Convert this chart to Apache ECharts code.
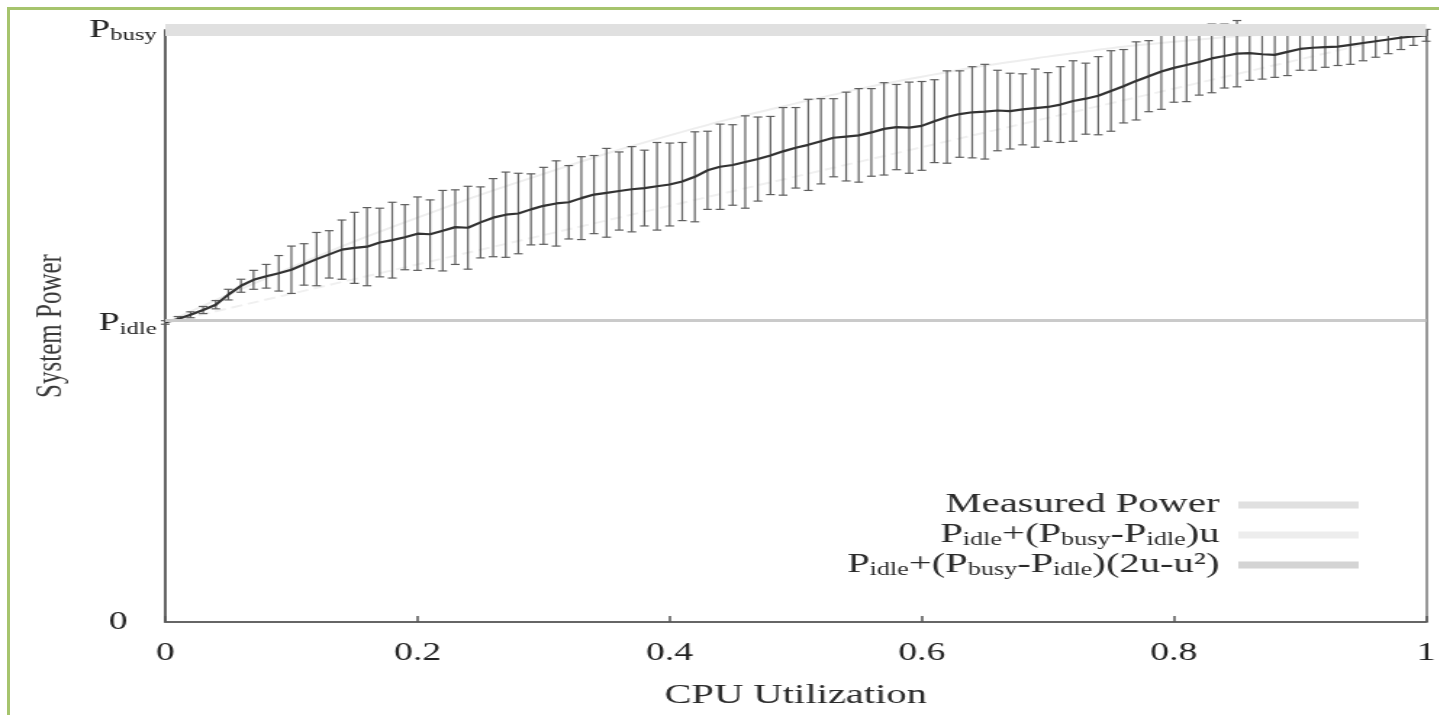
<!DOCTYPE html>
<html>
<head>
<meta charset="utf-8">
<script src="https://cdn.jsdelivr.net/npm/echarts@6/dist/echarts.min.js"></script>
<style>
  html, body { margin: 0; padding: 0; background: #fff; overflow: hidden; width: 1439px; height: 715px; }
  #main { position: absolute; left: 0; top: 0; width: 993px; height: 715px; transform: scaleX(1.45); transform-origin: 0 0; }
  #frame { position: absolute; left: 7px; top: 7px; width: 1500px; height: 800px; border-left: 3px solid #a6c46d; border-top: 3px solid #a6c46d; pointer-events: none; }
</style>
</head>
<body>
<div id="main"></div>
<div id="frame"></div>
<script>
// ---- data ----
const xTickLabels = ['0', '0.2', '0.4', '0.6', '0.8', '1'];
const yTickValues = [0, 0.505, 1];
const yTickLabels = ['0', 'P_idle', 'P_busy'];
const P_IDLE = 0.505;
const P_BUSY = 1.0;

const utilization = [
  0.00,0.01,0.02,0.03,0.04,0.05,0.06,0.07,0.08,0.09,
  0.10,0.11,0.12,0.13,0.14,0.15,0.16,0.17,0.18,0.19,
  0.20,0.21,0.22,0.23,0.24,0.25,0.26,0.27,0.28,0.29,
  0.30,0.31,0.32,0.33,0.34,0.35,0.36,0.37,0.38,0.39,
  0.40,0.41,0.42,0.43,0.44,0.45,0.46,0.47,0.48,0.49,
  0.50,0.51,0.52,0.53,0.54,0.55,0.56,0.57,0.58,0.59,
  0.60,0.61,0.62,0.63,0.64,0.65,0.66,0.67,0.68,0.69,
  0.70,0.71,0.72,0.73,0.74,0.75,0.76,0.77,0.78,0.79,
  0.80,0.81,0.82,0.83,0.84,0.85,0.86,0.87,0.88,0.89,
  0.90,0.91,0.92,0.93,0.94,0.95,0.96,0.97,0.98,0.99,
  1.00
];
const measuredPower = [
  0.506,0.512,0.519,0.527,0.536,0.553,0.568,0.578,0.584,0.589,
  0.595,0.604,0.613,0.621,0.629,0.632,0.634,0.641,0.645,0.650,
  0.656,0.655,0.661,0.667,0.666,0.675,0.683,0.688,0.690,0.697,
  0.703,0.707,0.709,0.716,0.722,0.725,0.728,0.731,0.733,0.736,
  0.739,0.744,0.752,0.763,0.769,0.772,0.777,0.782,0.788,0.795,
  0.801,0.806,0.812,0.818,0.820,0.822,0.827,0.833,0.836,0.835,
  0.838,0.846,0.853,0.858,0.861,0.862,0.864,0.863,0.866,0.868,
  0.870,0.874,0.880,0.884,0.889,0.897,0.905,0.914,0.922,0.930,
  0.936,0.941,0.946,0.952,0.956,0.960,0.961,0.959,0.958,0.963,
  0.968,0.970,0.971,0.972,0.975,0.978,0.981,0.984,0.987,0.989,
  0.991
];
const powerError = [
  0.003,0.004,0.005,0.006,0.007,0.009,0.011,0.016,0.020,0.030,
  0.040,0.035,0.045,0.040,0.050,0.060,0.066,0.058,0.064,0.055,
  0.062,0.058,0.068,0.063,0.070,0.060,0.066,0.072,0.068,0.060,
  0.065,0.072,0.062,0.070,0.066,0.075,0.066,0.072,0.064,0.074,
  0.070,0.066,0.076,0.066,0.072,0.068,0.078,0.071,0.066,0.074,
  0.068,0.077,0.072,0.066,0.075,0.079,0.074,0.078,0.072,0.077,
  0.075,0.070,0.078,0.073,0.077,0.080,0.068,0.064,0.060,0.066,
  0.058,0.064,0.068,0.060,0.066,0.068,0.062,0.066,0.060,0.064,
  0.058,0.062,0.056,0.058,0.054,0.056,0.046,0.042,0.038,0.040,
  0.036,0.038,0.034,0.032,0.033,0.030,0.027,0.024,0.020,0.015,
  0.010
];
const linearModelU = [0, 1];
const linearModelP = [0.505, 1.0];
const quadModelU = [0, 0.1, 0.2, 0.3, 0.4, 0.5, 0.6, 0.7, 0.8, 0.9, 1.0];
const quadModelP = [0.505, 0.599, 0.683, 0.757, 0.822, 0.876, 0.921, 0.955, 0.980, 0.995, 1.0];

const legendNames = ['Measured Power', 'Pidle+(Pbusy-Pidle)u', 'Pidle+(Pbusy-Pidle)(2u-u²)'];
const legendRich = {
  'Measured Power': 'Measured Power',
  'Pidle+(Pbusy-Pidle)u': 'P{sub|idle}+(P{sub|busy}-P{sub|idle})u',
  'Pidle+(Pbusy-Pidle)(2u-u²)': 'P{sub|idle}+(P{sub|busy}-P{sub|idle})(2u-u²)'
};

// ---- chart ----
const chart = echarts.init(document.getElementById('main'));
const serif = '"Liberation Serif", "Times New Roman", serif';

const errData = utilization.map((u, i) => [u, measuredPower[i] - powerError[i], measuredPower[i] + powerError[i]]);
const lineData = utilization.map((u, i) => [u, measuredPower[i]]);

const option = {
  animation: false,
  grid: { left: 114, right: 9, top: 30, bottom: 88, show: false },
  xAxis: [{
    type: 'value', min: 0, max: 1, interval: 0.2, position: 'bottom',
    name: 'CPU Utilization', nameLocation: 'middle', nameGap: 60,
    nameTextStyle: { fontFamily: serif, fontSize: 28, color: '#2a2a2a' },
    axisLine: { show: true, onZero: false, lineStyle: { color: '#666', width: 2 } },
    axisTick: { show: true, inside: true, length: 6, lineStyle: { color: '#555', width: 1.5 } },
    axisLabel: {
      margin: 18, fontFamily: serif, fontSize: 26, color: '#222',
      formatter: v => xTickLabels[Math.round(v / 0.2)]
    },
    splitLine: { show: false }
  }, {
    type: 'value', min: 0, max: 1, interval: 0.2, position: 'top',
    axisLine: { show: true, onZero: false, lineStyle: { color: '#bbb', width: 1 } },
    axisTick: { show: true, inside: true, length: 6, lineStyle: { color: '#555', width: 1.5 } },
    axisLabel: { show: false },
    splitLine: { show: false }
  }],
  yAxis: [{
    type: 'value', min: 0, max: 1, position: 'left',
    name: 'System Power', nameLocation: 'middle', nameGap: 66, nameRotate: 90,
    nameTextStyle: { fontFamily: serif, fontSize: 25, color: '#3a3a3a' },
    axisLine: { show: true, onZero: false, lineStyle: { color: '#666', width: 2 } },
    axisTick: { show: false },
    splitLine: { show: false },
    axisLabel: {
      customValues: yTickValues,
      margin: 6, fontFamily: serif, fontSize: 26, color: '#222',
      formatter: function (v) {
        const i = yTickValues.findIndex(t => Math.abs(t - v) < 1e-6);
        const s = yTickLabels[i];
        if (s === '0') return '{zero|0}';
        const parts = s.split('_');
        return parts[0] + '{sub|' + parts[1] + '}';
      },
      rich: {
        zero: { fontFamily: serif, fontSize: 26, color: '#222', padding: [0, 20, 0, 0] },
        sub: { fontFamily: serif, fontSize: 17, color: '#222', lineHeight: 17, padding: [12, 0, 0, 0] }
      }
    }
  }, {
    type: 'value', min: 0, max: 1, position: 'right',
    axisLine: { show: true, onZero: false, lineStyle: { color: '#999', width: 2 } },
    axisTick: { show: false }, axisLabel: { show: false }, splitLine: { show: false }
  }],
  legend: {
    orient: 'vertical', right: 51, top: 486, align: 'right',
    itemWidth: 83, itemHeight: 7, itemGap: 2,
    icon: 'rect',
    data: [
      { name: legendNames[0], itemStyle: { color: '#e0e0e0', borderWidth: 0 } },
      { name: legendNames[1], itemStyle: { color: '#ededed', borderWidth: 0 } },
      { name: legendNames[2], itemStyle: { color: '#d4d4d4', borderWidth: 0 } }
    ],
    formatter: n => legendRich[n],
    selectedMode: false,
    textStyle: {
      fontFamily: serif, fontSize: 28, color: '#2a2a2a', lineHeight: 28,
      width: 300, align: 'right', padding: [0, 8, 0, 0],
      rich: {
        sub: { fontFamily: serif, fontSize: 18, color: '#2a2a2a', lineHeight: 18, padding: [10, 0, 0, 0] }
      }
    }
  },
  series: [
    {
      name: legendNames[1], type: 'line', z: 1, silent: true,
      data: linearModelU.map((u, i) => [u, linearModelP[i]]),
      showSymbol: false, lineStyle: { color: '#f0f0f0', width: 2, type: 'dashed' },
      markLine: {
        silent: true, symbol: 'none', label: { show: false }, animation: false,
        data: [
          { yAxis: P_IDLE, lineStyle: { color: '#cacaca', width: 3, type: 'solid' } },
          { yAxis: P_BUSY, lineStyle: { color: '#e0e0e0', width: 12, type: 'solid' } }
        ]
      }
    },
    {
      name: legendNames[2], type: 'line', z: 1, silent: true, smooth: true,
      data: quadModelU.map((u, i) => [u, quadModelP[i]]),
      showSymbol: false, lineStyle: { color: '#eeeeee', width: 2 }
    },
    {
      name: legendNames[0], type: 'custom', z: 3, silent: true,
      data: errData,
      encode: { x: 0, y: [1, 2] },
      renderItem: function (params, api) {
        const x = api.value(0);
        const lo = api.coord([x, api.value(1)]);
        const hi = api.coord([x, api.value(2)]);
        const hw = 3;
        const st = { stroke: '#5e5e5e', lineWidth: 1.2 };
        return {
          type: 'group', children: [
            { type: 'line', shape: { x1: lo[0], y1: lo[1], x2: hi[0], y2: hi[1] }, style: st },
            { type: 'line', shape: { x1: lo[0] - hw, y1: lo[1], x2: lo[0] + hw, y2: lo[1] }, style: st },
            { type: 'line', shape: { x1: hi[0] - hw, y1: hi[1], x2: hi[0] + hw, y2: hi[1] }, style: st }
          ]
        };
      }
    },
    {
      name: legendNames[0], type: 'line', z: 4, silent: true,
      data: lineData, showSymbol: false,
      lineStyle: { color: '#333', width: 2.2 }
    }
  ]
};
chart.setOption(option);
</script>
</body>
</html>
